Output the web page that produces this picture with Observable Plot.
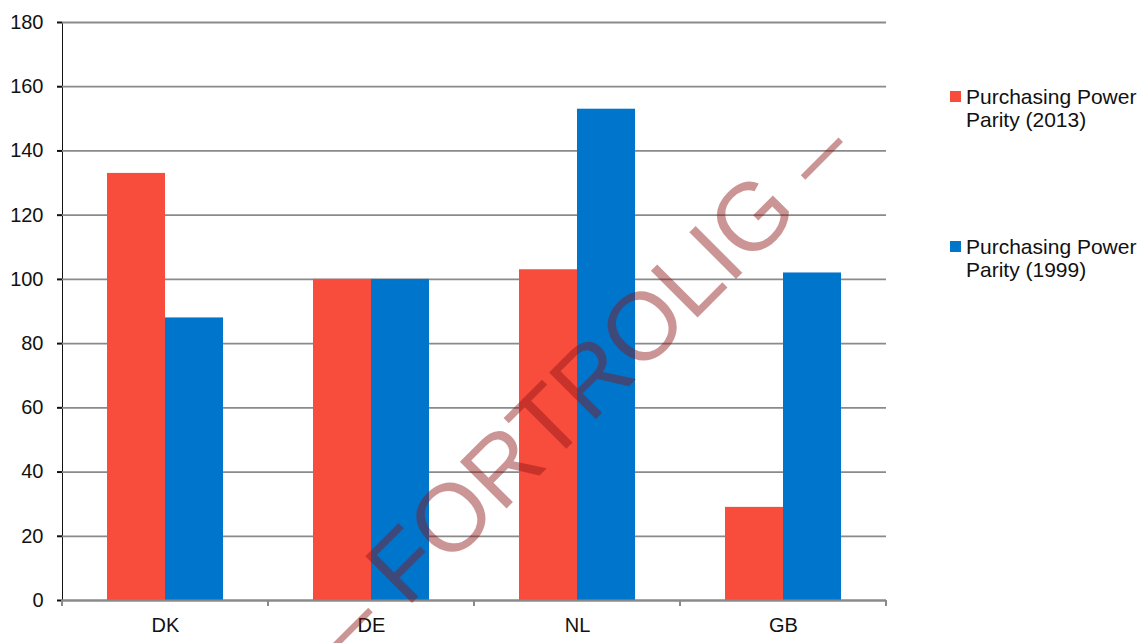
<!DOCTYPE html>
<html>
<head>
<meta charset="utf-8">
<script src="https://cdn.jsdelivr.net/npm/d3@7"></script>
<script src="https://cdn.jsdelivr.net/npm/@observablehq/plot@0.6"></script>
<style>
  html, body { margin: 0; padding: 0; background: #fff; }
  #chart { position: relative; width: 1142px; height: 643px; overflow: hidden; }
  #chart svg { display: block; }
  #chart text { fill: #111; }
  #chart g[aria-label="y-axis tick"], #chart g[aria-label="y-axis"] path, #chart g[aria-label="y-axis"] line { stroke: #8a8a8a; stroke-width: 2; }
</style>
</head>
<body>
<div id="chart"></div>
<script>
// ---- data ----
const countries = ["DK", "DE", "NL", "GB"];
const seriesNames = ["Purchasing Power Parity (2013)", "Purchasing Power Parity (1999)"];
const legendLines = [["Purchasing Power", "Parity (2013)"], ["Purchasing Power", "Parity (1999)"]];
const values2013 = [133, 100, 103, 29];
const values1999 = [88, 100, 153, 102];
const seriesColors = ["#F84C3C", "#0075CC"];
const yTicks = [0, 20, 40, 60, 80, 100, 120, 140, 160, 180];
const watermarkText = "– FORTROLIG –";

const data = countries.flatMap((c, i) => [
  {country: c, series: seriesNames[0], value: values2013[i]},
  {country: c, series: seriesNames[1], value: values1999[i]}
]);

const font = "'Liberation Sans', Arial, sans-serif";

const chart = Plot.plot({
  width: 1142,
  height: 643,
  marginLeft: 62,
  marginRight: 256,
  marginTop: 22,
  marginBottom: 43,
  style: {fontFamily: font, fontSize: "20px", background: "#fff", color: "#111"},
  fx: {domain: countries, padding: 0, label: null, tickSize: 0, tickPadding: 17, axis: "bottom"},
  x: {domain: seriesNames, paddingInner: 0, paddingOuter: 0.75, axis: null},
  y: {domain: [0, 180], ticks: yTicks, tickSize: 5, tickPadding: 14, label: null, line: true, tickFormat: d => String(d)},
  color: {domain: seriesNames, range: seriesColors},
  marks: [
    Plot.ruleY(yTicks, {stroke: "#8a8a8a", strokeWidth: 1.8}),
    Plot.barY(data, {fx: "country", x: "series", y: "value", fill: "series"}),
    Plot.ruleY([0], {stroke: "#8a8a8a", strokeWidth: 2})
  ]
});

document.getElementById("chart").appendChild(chart);

const svg = d3.select(chart);
const fxs = chart.scale("fx");
const ys = chart.scale("y");
const y0 = ys.apply(0);
const bounds = countries.map(c => fxs.apply(c));
bounds.push(fxs.apply(countries[countries.length - 1]) + fxs.bandwidth);

// category boundary ticks
svg.append("g").selectAll("line").data(bounds).join("line")
  .attr("x1", d => d).attr("x2", d => d)
  .attr("y1", y0).attr("y2", y0 + 6)
  .attr("stroke", "#8a8a8a").attr("stroke-width", 2);

// legend
const legendX = 950;
const legendTops = [91, 241];
const lg = svg.append("g").attr("font-family", font).attr("font-size", 21).attr("text-anchor", "start");
seriesNames.forEach((s, i) => {
  lg.append("rect").attr("x", legendX).attr("y", legendTops[i]).attr("width", 11).attr("height", 11)
    .attr("fill", seriesColors[i]);
  legendLines[i].forEach((line, j) => {
    lg.append("text").attr("x", legendX + 16).attr("y", legendTops[i] + 12.5 + j * 23.4)
      .attr("text-anchor", "start")
      .text(line);
  });
});

// watermark
svg.append("text")
  .attr("transform", "translate(350,665) rotate(-45)")
  .attr("font-family", font)
  .attr("font-size", 96)
  .attr("text-anchor", "start")
  .style("fill", "rgb(140,20,20)")
  .style("fill-opacity", 0.45)
  .text(watermarkText);
</script>
</body>
</html>
